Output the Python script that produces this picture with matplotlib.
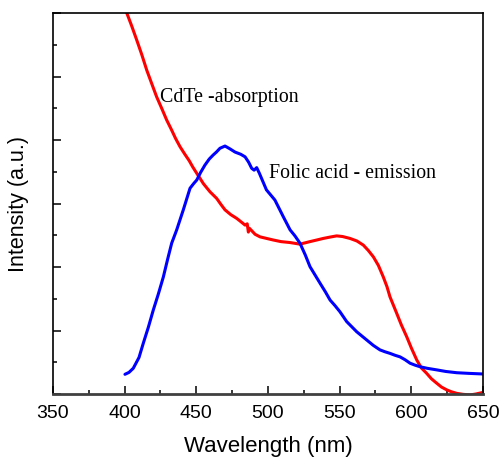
import numpy as np
import matplotlib
matplotlib.use('Agg')
import matplotlib.pyplot as plt
from matplotlib.ticker import MultipleLocator

# folic acid emission (blue)
em_wl = [400.2, 403.0, 406.0, 410.0, 413.0, 416.5, 420.0, 423.5, 427.0, 430.0,
         432.8, 436.3, 440.9, 445.6, 448.0, 450.3, 453.0, 456.0, 459.0, 461.8,
         464.0, 466.5, 470.0, 473.5, 477.0, 481.0, 484.0, 486.5, 488.6, 490.3,
         492.1, 494.0, 498.9, 504.8, 507.7, 510.7, 513.0, 515.4, 518.8, 522.3,
         526.0, 529.3, 532.8, 536.3, 540.0, 543.3, 546.8, 550.2, 554.9, 558.4,
         561.9, 565.4, 568.9, 573.5, 578.1, 581.6, 585.1, 588.6, 592.1, 595.6,
         599.1, 602.5, 606.0, 611.0, 617.7, 624.0, 631.7, 640.0, 650.2]
em_int = [0.62, 0.68, 0.81, 1.15, 1.60, 2.10, 2.65, 3.15, 3.69, 4.25,
          4.75, 5.17, 5.80, 6.48, 6.62, 6.74, 6.98, 7.21, 7.40, 7.53,
          7.62, 7.74, 7.81, 7.72, 7.62, 7.55, 7.47, 7.30, 7.11, 7.05,
          7.13, 6.95, 6.43, 6.11, 5.85, 5.58, 5.38, 5.17, 4.98, 4.75,
          4.38, 4.01, 3.75, 3.49, 3.22, 2.96, 2.78, 2.59, 2.28, 2.12,
          1.96, 1.83, 1.70, 1.53, 1.39, 1.33, 1.28, 1.22, 1.17, 1.08,
          0.97, 0.91, 0.86, 0.81, 0.76, 0.71, 0.67, 0.65, 0.63]

# CdTe absorption (red)
ab_wl = [398.0, 401.4, 405.0, 408.4, 412.0, 415.4, 419.0, 422.3, 426.0, 429.3,
         432.8, 435.5, 438.6, 442.0, 445.0, 447.5, 450.3, 455.0, 459.5, 464.2,
         467.0, 470.0, 474.0, 478.2, 481.0, 484.0, 485.5, 486.3, 487.0, 488.5,
         491.0, 494.4, 499.0, 503.7, 509.0, 515.4, 522.3, 529.3, 534.0, 538.6,
         543.0, 547.9, 552.0, 557.2, 562.0, 566.5, 570.0, 573.5, 577.0, 580.4,
         583.0, 585.1, 589.8, 593.0, 596.8, 600.0, 603.8, 607.0, 610.7, 614.0,
         617.7, 621.0, 624.7, 628.0, 631.7, 636.0, 641.0, 645.0, 650.0]
ab_int = [12.4, 12.01, 11.58, 11.15, 10.68, 10.20, 9.76, 9.36, 8.98, 8.63,
          8.31, 8.05, 7.79, 7.55, 7.35, 7.15, 6.95, 6.62, 6.37, 6.16,
          5.98, 5.80, 5.65, 5.53, 5.43, 5.32, 5.36, 5.10, 5.22, 5.15,
          5.03, 4.95, 4.90, 4.85, 4.80, 4.77, 4.72, 4.80, 4.85, 4.90,
          4.94, 4.98, 4.96, 4.90, 4.82, 4.69, 4.52, 4.32, 4.05, 3.69,
          3.38, 3.06, 2.54, 2.18, 1.80, 1.45, 1.07, 0.82, 0.65, 0.48,
          0.34, 0.22, 0.13, 0.07, 0.02, -0.01, -0.03, 0.0, 0.05]

xticks = [350, 400, 450, 500, 550, 600, 650]

plt.rcParams['font.family'] = ['Liberation Sans', 'DejaVu Sans']

fig = plt.figure(figsize=(5.01, 4.57), dpi=100)
ax = fig.add_axes([53/501, 63/457, 430/501, 381/457])

ax.plot(ab_wl, ab_int, '-', color='#ff0000', linewidth=2.2, solid_capstyle='round')
ax.plot(em_wl, em_int, '-', color='#0000ff', linewidth=2.2, solid_capstyle='round')

ax.set_xlim(350, 650)
ax.set_ylim(0, 12)
ax.set_xticks(xticks)
ax.xaxis.set_minor_locator(MultipleLocator(25))
ax.yaxis.set_major_locator(MultipleLocator(2))
ax.yaxis.set_minor_locator(MultipleLocator(1))
ax.set_yticklabels([])
ax.tick_params(axis='both', which='both', direction='in', top=False, right=False)
ax.tick_params(axis='both', which='major', length=6, width=1.1, labelsize=14)
ax.tick_params(axis='both', which='minor', length=3, width=1.1)
ax.tick_params(axis='x', pad=8)

for s in ['left', 'top', 'right']:
    ax.spines[s].set_linewidth(1.2)
    ax.spines[s].set_color('black')
ax.spines['bottom'].set_linewidth(2)
ax.spines['bottom'].set_color('#404040')

ax.set_xlabel('Wavelength (nm)', fontsize=16, labelpad=10)
ax.set_ylabel('Intensity (a.u.)', fontsize=15.5, labelpad=14)

ax.text(425, 9.2, 'CdTe -absorption', family='Liberation Serif', fontsize=14.3)
ax.text(501, 6.8, 'Folic acid - emission', family='Liberation Serif', fontsize=14.3)

fig.savefig('out.png', dpi=100)
